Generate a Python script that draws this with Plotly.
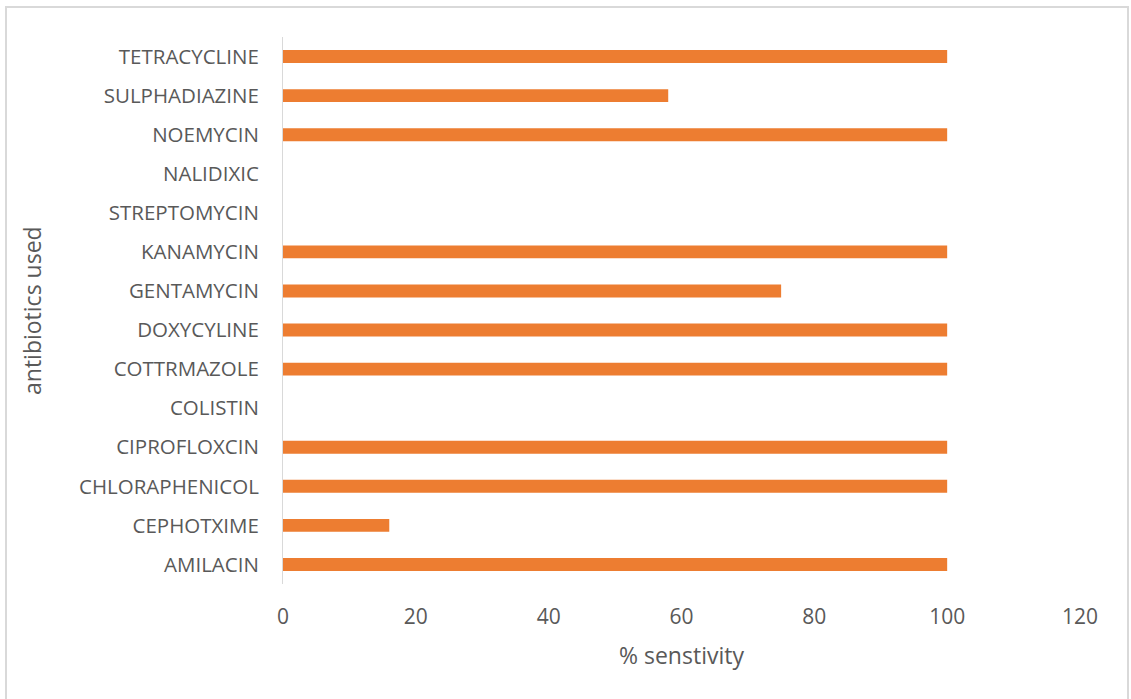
import plotly.graph_objects as go

# Antibiotic sensitivity (%), listed bottom to top
antibiotics = [
    "AMILACIN", "CEPHOTXIME", "CHLORAPHENICOL", "CIPROFLOXCIN", "COLISTIN",
    "COTTRMAZOLE", "DOXYCYLINE", "GENTAMYCIN", "KANAMYCIN", "STREPTOMYCIN",
    "NALIDIXIC", "NOEMYCIN", "SULPHADIAZINE", "TETRACYCLINE",
]
sensitivity = [100, 16, 100, 100, 0, 100, 100, 75, 100, 0, 0, 100, 58, 100]
x_ticks = [0, 20, 40, 60, 80, 100, 120]

FONT = "'Open Sans', sans-serif"
TEXT_COLOR = "#595959"

fig = go.Figure(
    go.Bar(
        x=sensitivity,
        y=antibiotics,
        orientation="h",
        marker=dict(color="#ED7D31", line=dict(width=0)),
        hoverinfo="x+y",
    )
)

W, H = 1131, 699
L, R, T, B = 283, 51, 37, 115
pw, ph = W - L - R, H - T - B

fig.update_layout(
    width=W,
    height=H,
    margin=dict(l=L, r=R, t=T, b=B),
    paper_bgcolor="white",
    plot_bgcolor="white",
    bargap=0.67,
    showlegend=False,
    font=dict(family=FONT, color=TEXT_COLOR, size=20),
    xaxis=dict(
        range=[0, 120],
        tickvals=x_ticks,
        showgrid=False,
        zeroline=False,
        showline=False,
        ticks="",
        ticklabelstandoff=18,
        tickfont=dict(size=21, color=TEXT_COLOR),
    ),
    yaxis=dict(
        categoryorder="array",
        categoryarray=antibiotics,
        range=[-0.5, len(antibiotics) - 0.5],
        showgrid=False,
        zeroline=False,
        showline=True,
        linecolor="#D9D9D9",
        linewidth=1,
        ticks="",
        ticklabelstandoff=19,
        tickfont=dict(size=20.5, color=TEXT_COLOR),
    ),
    annotations=[
        dict(
            text="% senstivity",
            xref="paper", yref="paper",
            x=(681 - L) / pw, y=(T + ph - 655) / ph,
            xanchor="center", yanchor="middle",
            showarrow=False,
            font=dict(size=23, color=TEXT_COLOR),
        ),
        dict(
            text="antibiotics used",
            xref="paper", yref="paper",
            x=(32 - L) / pw, y=(T + ph - 311) / ph,
            xanchor="center", yanchor="middle",
            textangle=-90,
            showarrow=False,
            font=dict(size=23, color=TEXT_COLOR),
        ),
    ],
    shapes=[
        dict(
            type="rect",
            xref="paper",
            yref="paper",
            x0=(6 - L) / pw,
            x1=(1128 - L) / pw,
            y0=(T + ph - 710) / ph,
            y1=(T + ph - 7) / ph,
            line=dict(color="#D9D9D9", width=2),
            fillcolor="rgba(0,0,0,0)",
            layer="below",
        )
    ],
)

fig.write_html("out.html")
